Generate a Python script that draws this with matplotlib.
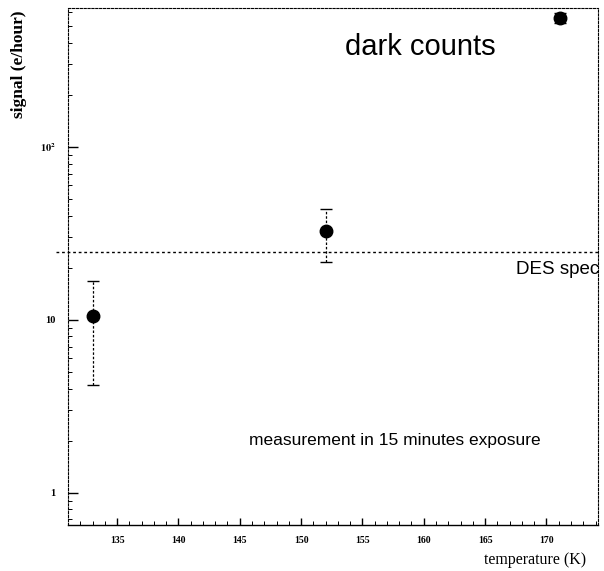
import numpy as np
from matplotlib import pyplot as plt
from matplotlib.ticker import FixedLocator, NullFormatter

# data
temperature = [133.0, 152.0, 171.1]
signal = [10.5, 32.7, 557.0]
err_low = [6.3, 11.1, 36.0]
err_high = [6.3, 11.1, 39.0]
des_spec = 24.7

xticks = [135, 140, 145, 150, 155, 160, 165, 170]
yticks = [1, 10, 100]
yticklabels = ['1', '10', r'$\mathbf{10^{2}}$']

serif = 'Liberation Serif'
plt.rcParams['mathtext.fontset'] = 'stix'

fig = plt.figure(figsize=(6.04, 5.71), dpi=100)
ax = fig.add_axes([0.1126, 0.0806, 0.8774, 0.9054])

ax.set_yscale('log')
ax.set_xlim(131.0, 174.2)
ax.set_ylim(0.65, 635)

# the DES spec line goes a bit past the left frame
ax.plot([130.0, 174.2], [des_spec, des_spec], ls=(0, (2, 2)), color='k',
        lw=1.0, clip_on=False)

eb = ax.errorbar(temperature, signal, yerr=[err_low, err_high], fmt='o',
                 color='k', ms=9, capsize=4, elinewidth=0.9, capthick=1.0)
eb[2][0].set_linestyle((0, (2, 1.5)))

ax.text(0.664, 0.925, 'dark counts', transform=ax.transAxes, fontsize=21,
        ha='center', va='center', family='Liberation Sans')
ax.text(1.003, 0.494, 'DES spec', transform=ax.transAxes, fontsize=13.5,
        ha='right', va='center', family='Liberation Sans')
ax.text(0.617, 0.164, 'measurement in 15 minutes exposure',
        transform=ax.transAxes, fontsize=12.5, ha='center', va='center',
        family='Liberation Sans')

# frame
for side in ['top', 'right', 'left']:
    ax.spines[side].set_linestyle((0, (2, 1.5)))
ax.spines['bottom'].set_linewidth(1.0)

ax.xaxis.set_major_locator(FixedLocator(xticks))
ax.xaxis.set_minor_locator(FixedLocator(np.arange(132, 175, 1)))
ax.set_xticklabels([str(t) for t in xticks], family=serif, fontsize=7,
                   fontweight='bold')
ax.yaxis.set_major_locator(FixedLocator(yticks))
ax.set_yticklabels(yticklabels, family=serif, fontsize=7.5, fontweight='bold')
ax.yaxis.set_minor_formatter(NullFormatter())

ax.tick_params(which='major', direction='in', length=7, width=1.0, pad=9)
ax.tick_params(which='minor', direction='in', length=3, width=0.7)
ax.tick_params(axis='x', which='major', length=5, pad=8)
ax.tick_params(top=False, right=False, which='both')

ax.text(0.977, -0.067, 'temperature (K)', transform=ax.transAxes,
        ha='right', va='center', family=serif, fontsize=11.5)
ax.text(-0.092, 0.996, 'signal (e/hour)', transform=ax.transAxes,
        rotation=90, ha='center', va='top', family=serif, fontsize=12.5,
        fontweight='bold')

fig.savefig('out.png', dpi=100)
